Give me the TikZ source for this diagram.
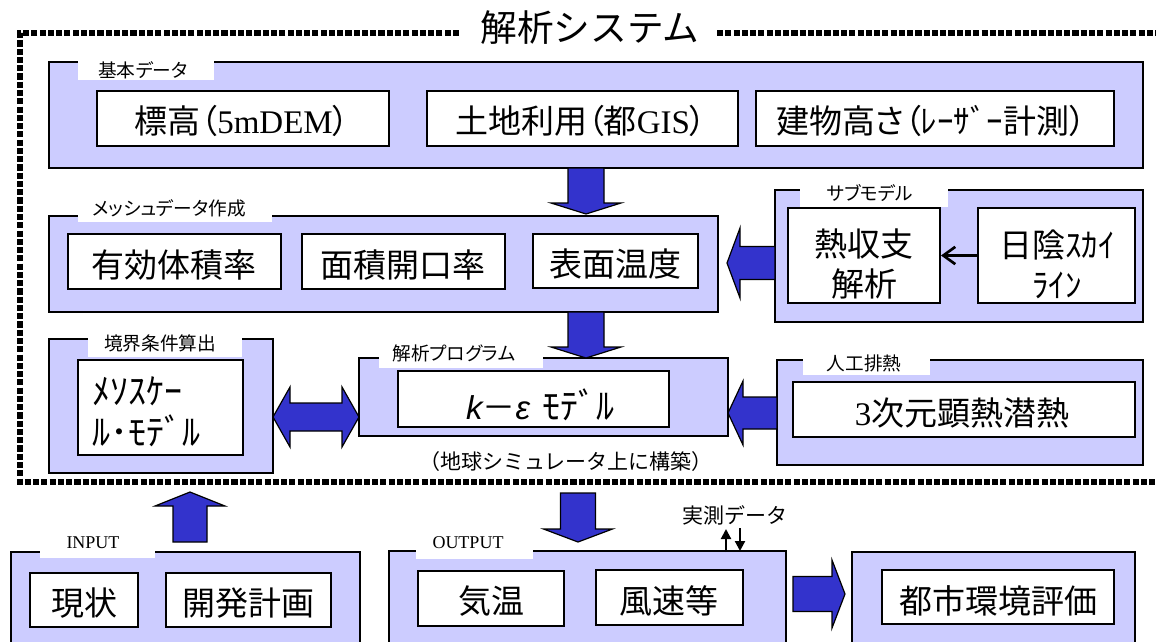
\documentclass[tikz,border=0pt]{standalone}
\usepackage{fontspec}
\setmainfont{Noto Sans CJK JP}
\newfontfamily\jpp[RawFeature=+palt]{Noto Sans CJK JP}
\newfontfamily\tms{Liberation Serif}
\newfontfamily\lss{Liberation Sans}
\usetikzlibrary{fit,arrows.meta}
\definecolor{lav}{HTML}{CCCCFF}
\definecolor{blu}{HTML}{3333CC}
\newcommand\fsz[1]{\fontsize{#1}{#1}\selectfont}
\newcommand\blkv[6]{% cx, ytail, ybase, ytip, shaft half, head half
  \filldraw[blk] ({#1-#5},#2) -- ({#1+#5},#2) -- ({#1+#5},#3) -- ({#1+#6},#3) -- (#1,#4) -- ({#1-#6},#3) -- ({#1-#5},#3) -- cycle;}
\newcommand\blkh[6]{% cy, xtail, xbase, xtip, shaft half, head half
  \filldraw[blk] (#2,{#1-#5}) -- (#2,{#1+#5}) -- (#3,{#1+#5}) -- (#3,{#1+#6}) -- (#4,#1) -- (#3,{#1-#6}) -- (#3,{#1-#5}) -- cycle;}
\tikzset{
  outer/.style={draw=black, line width=1.5pt, fill=lav, inner sep=0pt},
  inbox/.style={draw=black, line width=1.5pt, fill=white, inner sep=0pt},
  tabbox/.style={fill=white, draw=none, inner sep=0pt},
  lbl/.style={inner sep=0pt, font=\jpp\fsz{14}},
  lbltm/.style={inner sep=0pt, font=\tms\fsz{13.5}},
  body/.style={inner sep=0pt, font=\fsz{24.75}},
  bodyp/.style={inner sep=0pt, font=\jpp\fsz{24.75}},
  two/.style={inner sep=0pt, align=center, font=\fontsize{24.75}{30}\selectfont},
  note/.style={inner sep=0pt, font=\fsz{15.75}},
  blk/.style={draw=black, line width=0.9pt, fill=blu, line join=miter},
  dotframe/.style={line width=3.8pt, dash pattern=on 4.6pt off 1.6pt},
  thinarrow/.style={line width=2pt, -{Straight Barb[length=9pt,width=13pt]}},
  smallarrow/.style={line width=1.6pt, -{Triangle[length=7.5pt,width=7.5pt]}},
}
\begin{document}
\begin{tikzpicture}[x=0.75pt,y=-0.75pt]
\useasboundingbox (0,0) rectangle (1156,642);
\clip (0,0) rectangle (1156,642);

% outer boxes
\node[outer, fit={(49,62)(1143,168)}] (kihon) {};
\node[outer, fit={(49,216)(718,312)}] (mesh) {};
\node[outer, fit={(775,190)(1143,322)}] (sub) {};
\node[outer, fit={(49,339)(273,473)}] (kyokai) {};
\node[outer, fit={(359,358)(728,436)}] (prog) {};
\node[outer, fit={(777,360)(1143,465)}] (jinko) {};
\node[outer, fit={(11,552)(360,660)}] (inp) {};
\node[outer, fit={(389,551)(786,660)}] (outp) {};
\node[outer, fit={(852,552)(1135,660)}] (toshi) {};

% tabs
\node[tabbox, fit={(78,57)(214,80)}] (tab1) {};
\node[tabbox, fit={(78,195)(272,222)}] (tab2) {};
\node[tabbox, fit={(800,180)(948,207)}] (tab3) {};
\node[tabbox, fit={(88,330)(242,357)}] (tab4) {};
\node[tabbox, fit={(379,340)(543,368)}] (tab5) {};
\node[tabbox, fit={(803,350)(930,375)}] (tab6) {};
\node[tabbox, fit={(40,530)(155,558)}] (tab7) {};
\node[tabbox, fit={(416,530)(533,559)}] (tab8) {};

\node[lbl] (l1) at (143,70) {基本データ};
\node[lbl] (l2) at (169,208) {メッシュデータ作成};
\node[lbl] (l3) at (870,193) {サブモデル};
\node[lbl] (l4) at (160,343) {境界条件算出};
\node[lbl] (l5) at (454,353) {解析プログラム};
\node[lbl] (l6) at (864,363) {人工排熱};
\node[lbltm] (l7) at (93,543) {INPUT};
\node[lbltm] (l8) at (468,543) {OUTPUT};

% inner boxes
\node[inbox, fit={(97,91)(389,146)}] (dem) {};
\node[inbox, fit={(427,91)(738,146)}] (gis) {};
\node[inbox, fit={(756,91)(1114,146)}] (bldg) {};
\node[inbox, fit={(68,234)(281,289)}] (yuko) {};
\node[inbox, fit={(302,234)(505,289)}] (men) {};
\node[inbox, fit={(533,234)(698,288)}] (hyo) {};
\node[inbox, fit={(788,208)(940,303)}] (netsu) {};
\node[inbox, fit={(978,208)(1135,303)}] (hik) {};
\node[inbox, fit={(78,360)(243,455)}] (meso) {};
\node[inbox, fit={(398,371)(669,427)}] (ke) {};
\node[inbox, fit={(793,382)(1135,437)}] (sanji) {};
\node[inbox, fit={(30,573)(138,627)}] (gen) {};
\node[inbox, fit={(166,573)(331,627)}] (kai) {};
\node[inbox, fit={(418,571)(564,626)}] (kion) {};
\node[inbox, fit={(596,570)(743,625)}] (fu) {};
\node[inbox, fit={(882,570)(1114,624)}] (hyoka) {};

% texts
\node[bodyp] (tdem) at (242,121) {標高（{\tms 5mDEM}）};
\node[bodyp] (tgis) at (581,121) {土地利用（都{\tms GIS}）};
\node[bodyp] (tbldg) at (931,121) {建物高さ（ﾚｰｻﾞｰ計測）};
\node[body] (tyuko) at (174,265) {有効体積率};
\node[body] (tmen) at (403,265) {面積開口率};
\node[body] (thyo) at (615,264) {表面温度};
\node[two] (tnetsu) at (864,264) {熱収支\\解析};
\node[two] (thik) at (1057,264) {日陰ｽｶｲ\\ﾗｲﾝ};
\node[inner sep=0pt, align=left, anchor=west, font=\fontsize{27}{30.75}\selectfont] (tmeso) at (92,412) {ﾒｿｽｹｰ\\ﾙ･ﾓﾃﾞﾙ};
\node[body] (tke) at (540,405) {{\lss\itshape k}－{\lss\itshape ε}\hspace{9pt}{\fsz{27}ﾓﾃﾞﾙ}};
\node[body] (tsanji) at (962,413) {{\tms 3}次元顕熱潜熱};
\node[body] (tgen) at (84,603) {現状};
\node[body] (tkai) at (248,603) {開発計画};
\node[body] (tkion) at (491,601) {気温};
\node[body] (tfu) at (669,601) {風速等};
\node[body] (thyoka) at (998,601) {都市環境評価};
\node[note] (tchikyu) at (566,462) {（地球シミュレータ上に構築）};
\node[note] (tjis) at (735,515) {実測データ};

% block arrows
\blkv{586}{168}{203}{214}{18}{35}
\blkv{586}{312}{347}{358}{18}{35}
\blkh{263}{775}{740}{727}{16.5}{35}
\blkh{413}{777}{743}{728}{16}{32}
\filldraw[blk] (273,417) -- (290,387) -- (290,403) -- (342,403) -- (342,387) -- (359,417) -- (342,447) -- (342,431) -- (290,431) -- (290,447) -- cycle;
\blkv{190}{542}{506}{492}{17}{35}
\blkv{578}{493}{529}{542}{17.5}{34.5}
\blkh{594}{793}{832}{845}{17.5}{34}

% thin arrows
\draw[thinarrow] (hik.west) -- (netsu.east);
\draw[smallarrow] (726,552) -- (726,529);
\draw[smallarrow] (740,528) -- (740,551);

% dotted frame and title
\draw[dotframe] (459,33) -- (20,33) -- (20,482) -- (1160,482);
\draw[dotframe] (717,33) -- (1160,33);
\node[inner sep=0pt, font=\fsz{27.5}] (title) at (590,28) {解析システム};
\end{tikzpicture}
\end{document}
